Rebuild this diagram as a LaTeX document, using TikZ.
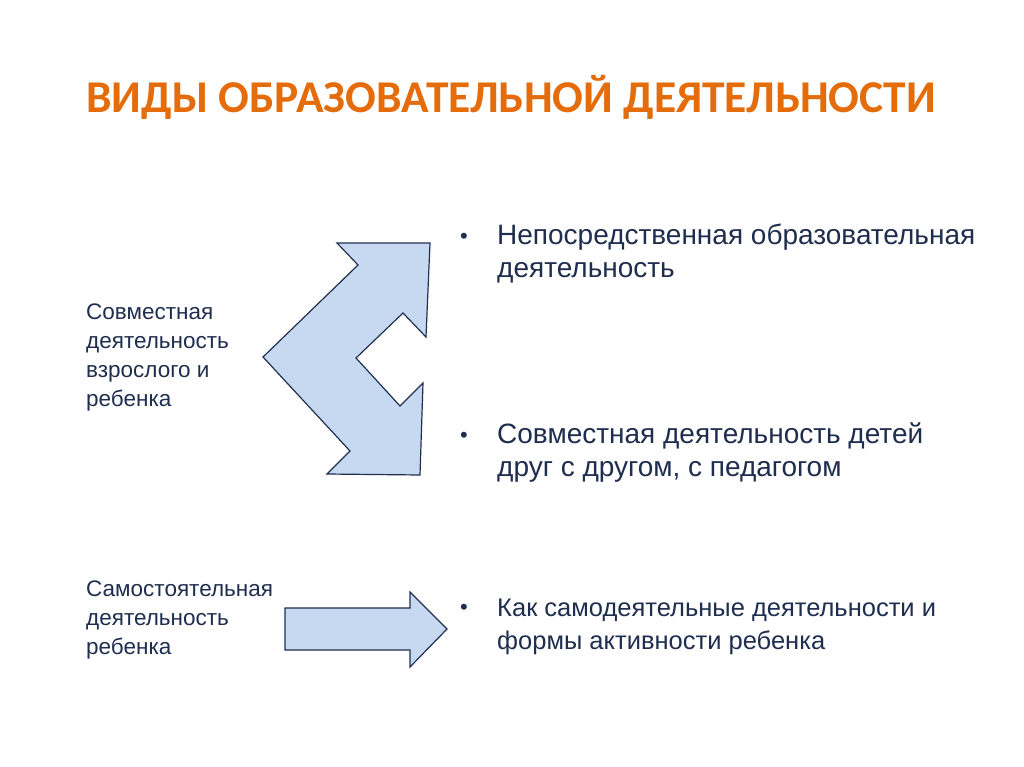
\documentclass[tikz,border=0pt]{standalone}
\usepackage{fontspec}
\setmainfont{Liberation Sans}
\newfontfamily\titlefont{Carlito}
\definecolor{ttl}{HTML}{E46C0A}
\definecolor{txt}{HTML}{1F2E4E}
\definecolor{afill}{HTML}{C6D9F1}
\definecolor{aline}{HTML}{1F3050}
\begin{document}
\begin{tikzpicture}[x=1pt,y=-1pt,
  arr/.style={fill=afill,draw=aline,line width=1.2pt,line join=miter},
  lbl/.style={text=txt,font=\fontsize{22.5}{29}\selectfont,align=left,anchor=west,inner sep=0},
  itm/.style={text=txt,font=\fontsize{28}{33}\selectfont,align=left,anchor=west,inner sep=0}]
\useasboundingbox (0,0) rectangle (1024,767);
\fill[white] (0,0) rectangle (1024,767);
\node[text=ttl,font=\titlefont\bfseries\fontsize{45.5}{50}\selectfont,anchor=west,inner sep=0] (title) at (86,97) {ВИДЫ ОБРАЗОВАТЕЛЬНОЙ ДЕЯТЕЛЬНОСТИ};
\draw[arr] (337,243) -- (430,243) -- (426,337) -- (403,313) -- (356,358) -- (400,406) -- (423,383) -- (420,475) -- (327,474) -- (350,451) -- (263,357) -- (358,265) -- cycle;
\draw[arr] (285,608) -- (410,608) -- (410,592) -- (447,629) -- (410,667) -- (410,650) -- (285,650) -- cycle;
\node[lbl] (l1) at (86,357) {Совместная\\деятельность\\взрослого и\\ребенка};
\node[lbl] (l2) at (86,620) {Самостоятельная\\деятельность\\ребенка};
\node[itm] (i1) at (497,254) {Непосредственная образовательная\\деятельность};
\node[itm] (i2) at (497,453) {Совместная деятельность детей\\друг с другом, с педагогом};
\node[itm,font=\fontsize{25.5}{33}\selectfont] (i3) at (497,627) {Как самодеятельные деятельности и\\формы активности ребенка};
\node[text=txt,font=\fontsize{22}{24}\selectfont,inner sep=0] (b1) at (464,238) {•};
\node[text=txt,font=\fontsize{22}{24}\selectfont,inner sep=0] (b2) at (464,437) {•};
\node[text=txt,font=\fontsize{22}{24}\selectfont,inner sep=0] (b3) at (464,609) {•};
\end{tikzpicture}
\end{document}
